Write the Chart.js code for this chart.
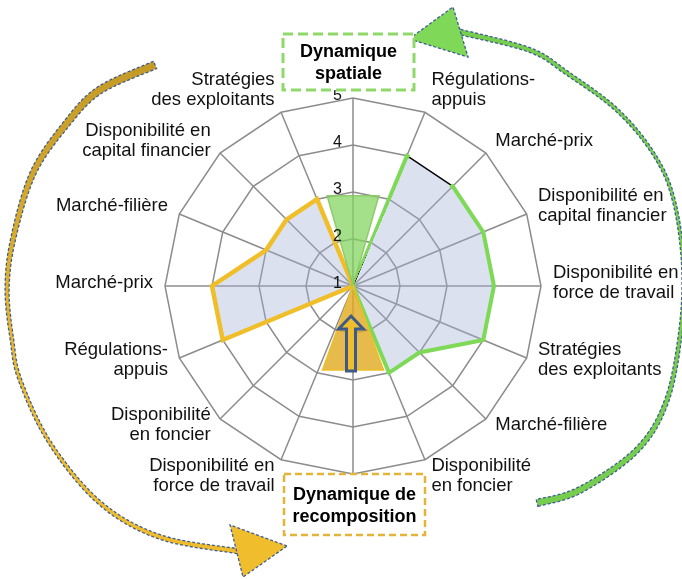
<!DOCTYPE html>
<html>
<head>
<meta charset="utf-8">
<script src="https://cdn.jsdelivr.net/npm/chart.js@4"></script>
<style>
html,body{margin:0;padding:0;background:#fff;}
#wrap{position:relative;width:682px;height:579px;}
</style>
</head>
<body>
<div id="wrap"><canvas id="radar" width="682" height="579"></canvas></div>
<script>
// axes of the radar (index 0 = top, clockwise)
const labels = [
  '',
  ['Régulations-', 'appuis'],
  ['Marché-prix'],
  ['Disponibilité en', 'capital financier'],
  ['Disponibilité en', 'force de travail'],
  ['Stratégies', 'des exploitants'],
  ['Marché-filière'],
  ['Disponibilité', 'en foncier'],
  '',
  ['Disponibilité en', 'force de travail'],
  ['Disponibilité', 'en foncier'],
  ['Régulations-', 'appuis'],
  ['Marché-prix'],
  ['Marché-filière'],
  ['Disponibilité en', 'capital financier'],
  ['Stratégies', 'des exploitants']
];
// dynamique spatiale (right half)
const spatialValues = [1, 4, 4, 4, 4, 4, 3, 3, 1, 1, 1, 1, 1, 1, 1, 1];
// dynamique de recomposition (left half)
const recompValues = [1, 1, 1, 1, 1, 1, 1, 1, 1, 1, 1, 4, 4, 3, 3, 3];
const tickValues = [1, 2, 3, 4, 5];
// the two wedges : direction (deg from top), reach (scale value), half opening (deg)
const wedgeDirections = [0, 180];
const wedgeValues = [3, 2.9];
const wedgeHalfAngles = [16, 20];

const FONT = "'Liberation Sans', Arial, sans-serif";
const green = 'rgb(126,217,87)';
const yellow = 'rgb(240,190,40)';

//vert : pas de trait sur le segment Régulations -> Marché-prix
function greenBorder(c) {
  const r = c.chart.scales.r;
  const ctx = c.chart.ctx;
  if (!r || r.xCenter === undefined || !ctx.createConicGradient) return green;
  const g = ctx.createConicGradient(-Math.PI / 2, r.xCenter, r.yCenter);
  const a1 = 23.6 / 360, a2 = 44 / 360;
  g.addColorStop(0, green);
  g.addColorStop(a1, green);
  g.addColorStop(a1, 'rgba(0,0,0,0)');
  g.addColorStop(a2, 'rgba(0,0,0,0)');
  g.addColorStop(a2, green);
  g.addColorStop(1, green);
  return g;
}

function spline(pts, widths, steps) {
  const out = [];
  for (let i = 0; i < pts.length - 1; i++) {
    const p0 = pts[Math.max(i - 1, 0)], p1 = pts[i], p2 = pts[i + 1], p3 = pts[Math.min(i + 2, pts.length - 1)];
    for (let s = 0; s < steps; s++) {
      const t = s / steps, t2 = t * t, t3 = t2 * t;
      const xy = [0, 1].map(k => 0.5 * (2 * p1[k] + (-p0[k] + p2[k]) * t +
        (2 * p0[k] - 5 * p1[k] + 4 * p2[k] - p3[k]) * t2 +
        (-p0[k] + 3 * p1[k] - 3 * p2[k] + p3[k]) * t3));
      out.push([xy[0], xy[1], widths[i] + (widths[i + 1] - widths[i]) * t]);
    }
  }
  const l = pts[pts.length - 1];
  out.push([l[0], l[1], widths[widths.length - 1]]);
  return out;
}

function curvedArrow(ctx, pts, widths, head, fill, headFill) {
  const s = spline(pts, widths, 12);
  const left = [], right = [];
  for (let k = 0; k < s.length; k++) {
    const a = s[Math.max(k - 1, 0)], b = s[Math.min(k + 1, s.length - 1)];
    let tx = b[0] - a[0], ty = b[1] - a[1];
    const len = Math.hypot(tx, ty) || 1;
    const nx = -ty / len, ny = tx / len, w = s[k][2] / 2;
    left.push([s[k][0] + nx * w, s[k][1] + ny * w]);
    right.push([s[k][0] - nx * w, s[k][1] - ny * w]);
  }
  ctx.save();
  ctx.beginPath();
  left.forEach((p, i) => i ? ctx.lineTo(p[0], p[1]) : ctx.moveTo(p[0], p[1]));
  right.reverse().forEach(p => ctx.lineTo(p[0], p[1]));
  ctx.closePath();
  ctx.fillStyle = fill;
  ctx.fill();
  ctx.setLineDash([3, 2]);
  ctx.lineWidth = 1.3;
  ctx.strokeStyle = '#3f5d92';
  ctx.stroke();
  ctx.beginPath();
  ctx.moveTo(head[0][0], head[0][1]);
  ctx.lineTo(head[1][0], head[1][1]);
  ctx.lineTo(head[2][0], head[2][1]);
  ctx.closePath();
  ctx.fillStyle = headFill;
  ctx.fill();
  ctx.stroke();
  ctx.restore();
}

function dashedBox(ctx, x, y, w, h, color, lw, dash, lines) {
  ctx.save();
  ctx.fillStyle = '#fff';
  ctx.fillRect(x, y, w, h);
  ctx.setLineDash(dash);
  ctx.lineWidth = lw;
  ctx.strokeStyle = color;
  ctx.strokeRect(x, y, w, h);
  ctx.setLineDash([]);
  ctx.fillStyle = '#000';
  ctx.font = 'bold 18px ' + FONT;
  ctx.textAlign = 'center';
  ctx.textBaseline = 'middle';
  lines.forEach((t, i) => ctx.fillText(t, x + w / 2, y + lines.y0 + i * 22.5));
  ctx.restore();
}

const decor = {
  id: 'decor',
  afterDatasetsDraw(chart) {
    const ctx = chart.ctx, r = chart.scales.r;
    const cx = r.xCenter, cy = r.yCenter, R = r.drawingArea;
    // wedges
    const fills = ['rgba(128,212,92,0.72)', 'rgba(225,170,30,0.8)'];
    const strokes = ['rgba(140,200,100,0.9)', yellow];
    wedgeDirections.forEach((d, i) => {
      const dist = r.getDistanceFromCenterForValue(wedgeValues[i]);
      const a1 = (d - wedgeHalfAngles[i]) * Math.PI / 180;
      const a2 = (d + wedgeHalfAngles[i]) * Math.PI / 180;
      ctx.save();
      ctx.beginPath();
      ctx.moveTo(cx, cy);
      ctx.lineTo(cx + dist * Math.sin(a1), cy - dist * Math.cos(a1));
      ctx.lineTo(cx + dist * Math.sin(a2), cy - dist * Math.cos(a2));
      ctx.closePath();
      ctx.fillStyle = fills[i];
      ctx.fill();
      ctx.lineWidth = 1.5;
      ctx.strokeStyle = strokes[i];
      ctx.stroke();
      ctx.restore();
    });
    // petite flèche dans le coin du bas
    const ax = cx - 2;
    ctx.save();
    ctx.beginPath();
    ctx.moveTo(ax, cy + 0.16 * R);
    ctx.lineTo(ax + 0.066 * R, cy + 0.229 * R);
    ctx.lineTo(ax + 0.024 * R, cy + 0.229 * R);
    ctx.lineTo(ax + 0.024 * R, cy + 0.452 * R);
    ctx.lineTo(ax - 0.024 * R, cy + 0.452 * R);
    ctx.lineTo(ax - 0.024 * R, cy + 0.229 * R);
    ctx.lineTo(ax - 0.066 * R, cy + 0.229 * R);
    ctx.closePath();
    ctx.fillStyle = '#f0be2c';
    ctx.fill();
    ctx.lineWidth = 3;
    ctx.strokeStyle = '#3e5a8a';
    ctx.stroke();
    ctx.restore();
    // graduations
    ctx.save();
    ctx.font = '16px ' + FONT;
    ctx.fillStyle = '#111';
    ctx.textAlign = 'right';
    ctx.textBaseline = 'middle';
    tickValues.forEach(v => {
      const p = r.getPointPositionForValue(0, v);
      ctx.fillText(String(v), p.x - 11, p.y - 2);
    });
    ctx.restore();
  },
  afterDraw(chart) {
    const ctx = chart.ctx, r = chart.scales.r;
    const cx = r.xCenter, cy = r.yCenter, R = r.drawingArea;
    const P = o => [cx + o[0] * R, cy + o[1] * R];
    // libellés des axes, posés autour du polygone extérieur
    ctx.save();
    ctx.font = '18.5px ' + FONT;
    ctx.fillStyle = '#111';
    ctx.textBaseline = 'middle';
    const lh = 20.5;
    labels.forEach((lab, i) => {
      if (!lab) return;
      const lines = Array.isArray(lab) ? lab : [lab];
      const p = r.getPointPosition(i, R + 9);
      const a = i * 2 * Math.PI / labels.length;
      const c = Math.cos(a), s = Math.sin(a);
      ctx.textAlign = s > 0.01 ? 'left' : (s < -0.01 ? 'right' : 'center');
      const x = p.x + 3 * Math.sign(s);
      const yc = p.y - 3 - (Math.abs(c) > 0.9 ? 12 : 4) * c;
      const h = lines.length * lh;
      lines.forEach((t, k) => ctx.fillText(t, x, yc - h / 2 + lh / 2 + k * lh));
    });
    ctx.restore();
    // grande flèche verte (droite, vers le haut)
    const gPts = [[0.979, 1.154], [1.207, 1.085], [1.511, 0.872], [1.670, 0.606], [1.745, 0.218],
      [1.755, -0.128], [1.702, -0.473], [1.596, -0.707], [1.404, -0.936], [1.138, -1.133],
      [0.941, -1.255], [0.569, -1.351]].map(P);
    const gW = [7, 6.5, 5.5, 4.5, 3.5, 3, 3, 3, 3.5, 4, 4.5, 5.5];
    const gHead = [[0.298, -1.314], [0.532, -1.484], [0.612, -1.218]].map(P);
    curvedArrow(ctx, gPts, gW, gHead, 'rgb(118,205,78)', 'rgb(128,216,88)');
    // grande flèche jaune (gauche, vers le bas)
    const yPts = [[-1.053, -1.176], [-1.346, -1.043], [-1.521, -0.867], [-1.702, -0.601], [-1.809, -0.245],
      [-1.840, 0.021], [-1.814, 0.287], [-1.771, 0.500], [-1.612, 0.835], [-1.346, 1.154],
      [-1.027, 1.335], [-0.617, 1.410]].map(P);
    const yW = [8, 7.5, 7, 6, 5, 4, 3.5, 3.5, 3.5, 4, 4.5, 5];
    const yHead = [[-0.351, 1.383], [-0.654, 1.271], [-0.585, 1.548]].map(P);
    const grad = ctx.createLinearGradient(0, cy - 1.2 * R, 0, cy + 0.6 * R);
    grad.addColorStop(0, 'rgb(196,154,40)');
    grad.addColorStop(1, 'rgb(238,188,44)');
    curvedArrow(ctx, yPts, yW, yHead, grad, 'rgb(240,190,45)');
    // cadres
    const t1 = ['Dynamique', 'spatiale']; t1.y0 = 18;
    dashedBox(ctx, cx - 70, cy - R - 64, 131, 56, '#8fd96b', 3, [10, 5], t1);
    const t2 = ['Dynamique de', 'recomposition']; t2.y0 = 21;
    dashedBox(ctx, cx - 69, cy + R, 141, 61, '#e2b437', 2.5, [7, 4], t2);
  }
};

new Chart(document.getElementById('radar'), {
  type: 'radar',
  data: {
    labels: labels,
    datasets: [{
      label: 'spatiale (trait)',
      data: spatialValues,
      fill: false,
      borderColor: greenBorder,
      borderWidth: 4,
      pointRadius: 0,
      order: 0
    }, {
      label: 'recomposition',
      data: recompValues,
      fill: true,
      backgroundColor: 'rgba(163,177,212,0.38)',
      borderColor: yellow,
      borderWidth: 4.5,
      pointRadius: 0,
      order: 1
    }, {
      label: 'spatiale',
      data: spatialValues,
      fill: true,
      backgroundColor: 'rgba(163,177,212,0.38)',
      borderColor: '#000',
      borderWidth: 1.3,
      pointRadius: 0,
      order: 2
    }]
  },
  options: {
    responsive: false,
    animation: false,
    devicePixelRatio: 1,
    layout: { padding: { left: 165, right: 141, top: 98, bottom: 105 } },
    plugins: { legend: { display: false }, tooltip: { enabled: false } },
    scales: {
      r: {
        min: 1,
        max: 5,
        ticks: { display: false, stepSize: 1 },
        grid: { color: '#8c8c8c', lineWidth: 1.5, circular: false },
        angleLines: { color: '#8c8c8c', lineWidth: 1.5 },
        pointLabels: { display: false }
      }
    }
  },
  plugins: [decor]
});
</script>
</body>
</html>
